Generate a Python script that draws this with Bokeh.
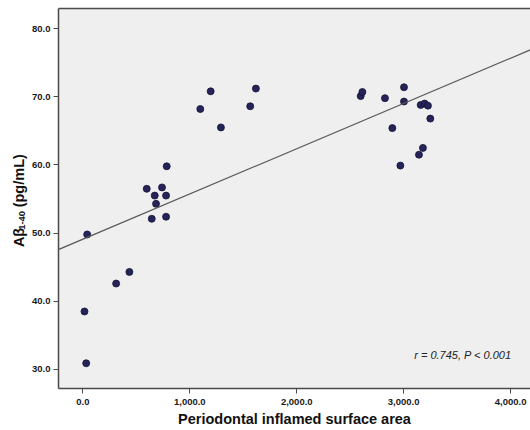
import math
from bokeh.plotting import figure
from bokeh.layouts import row
from bokeh.models import (ColumnDataSource, LinearAxis, FixedTicker, NumeralTickFormatter,
                          Range1d, Label, Slope)
from bokeh.core.properties import value
from bokeh.embed import file_html
from bokeh.resources import INLINE

# Periodontal inflamed surface area (PISA, mm²) and plasma Aβ1-40 (pg/mL)
pisa = [15, 31, 40, 311, 435, 597, 644, 672, 684, 740, 778, 778, 784,
        1098, 1195, 1291, 1565, 1618,
        2598, 2614, 2825, 2894, 2969, 3003, 3003, 3143, 3159, 3180, 3196, 3227, 3249]
abeta = [38.5, 30.9, 49.8, 42.6, 44.3, 56.5, 52.1, 55.5, 54.3, 56.7, 55.5, 52.4, 59.8,
         68.2, 70.8, 65.5, 68.6, 71.2,
         70.1, 70.7, 69.8, 65.4, 59.9, 71.4, 69.3, 61.5, 68.8, 62.5, 69.0, 68.7, 66.8]

# Fitted regression line
fit_intercept = 49.1
fit_slope = 0.00664

x_ticks = [0, 1000, 2000, 3000, 4000]
y_ticks = [30, 40, 50, 60, 70, 80]
stats_text = "r = 0.745, P < 0.001"
y_title = ["Aβ", "1-40", "(pg/mL)"]

FONT = "Liberation Sans"
H = 430
TITLE_W = 29

# ---- narrow strip holding the vertical y-axis title (pixel coordinates) ----
t = figure(width=TITLE_W, height=H, output_backend="svg", toolbar_location=None,
           x_range=Range1d(0, TITLE_W), y_range=Range1d(0, H),
           x_axis_type=None, y_axis_type=None,
           min_border_left=0, min_border_right=0, min_border_top=0, min_border_bottom=0)
t.outline_line_color = None
t.background_fill_color = "white"
t.border_fill_color = "white"
t.grid.visible = False

base_x, start_y = 18, 270          # baseline column and starting row of the title
title_specs = [(y_title[0], 14.5, 0, 0.0),
               (y_title[1], 9.5, 3, 19.5),
               (y_title[2], 14.5, 0, 45.0)]
for txt, fs, dx, offset in title_specs:
    t.text(x=[base_x + dx], y=[H - (start_y - offset)], text=[txt], angle=math.pi / 2,
           text_font=value(FONT), text_font_style="bold", text_font_size=f"{fs}px",
           text_color="#111111", text_align="left", text_baseline="alphabetic")

# ---- main scatter plot ----
p = figure(width=530 - TITLE_W, height=H, output_backend="svg", toolbar_location=None,
           x_range=Range1d(-228, 4186), y_range=Range1d(27.2, 82.95),
           x_axis_type=None, y_axis_type=None,
           min_border_left=57 - TITLE_W, min_border_right=0, min_border_top=8,
           min_border_bottom=42)
p.background_fill_color = "#efefef"
p.border_fill_color = "white"
p.outline_line_color = None
p.grid.visible = False

xaxis = LinearAxis(ticker=FixedTicker(ticks=x_ticks),
                   formatter=NumeralTickFormatter(format="0,0.0"),
                   axis_label="Periodontal inflamed surface area")
yaxis = LinearAxis(ticker=FixedTicker(ticks=y_ticks),
                   formatter=NumeralTickFormatter(format="0.0"))
for ax in (xaxis, yaxis):
    ax.axis_line_color = "#4a4a4a"
    ax.axis_line_width = 1.5
    ax.major_tick_line_color = "#4a4a4a"
    ax.major_tick_in = 0
    ax.major_tick_out = 5
    ax.minor_tick_line_color = None
    ax.major_label_text_font = FONT
    ax.major_label_text_font_style = "bold"
    ax.major_label_text_font_size = "9.5px"
    ax.major_label_text_color = "#1a1a1a"
    ax.axis_label_text_font = FONT
    ax.axis_label_text_font_style = "bold"
    ax.axis_label_text_font_size = "14.5px"
    ax.axis_label_text_color = "#111111"
xaxis.major_label_standoff = 5
xaxis.axis_label_standoff = 3
yaxis.major_label_standoff = 3
p.add_layout(xaxis, "below")
p.add_layout(yaxis, "left")

# top border of the plotting box
top = LinearAxis(ticker=FixedTicker(ticks=[]), axis_line_color="#4a4a4a",
                 axis_line_width=1.5, major_tick_line_color=None,
                 minor_tick_line_color=None, major_label_text_font_size="0px")
p.add_layout(top, "above")

p.add_layout(Slope(gradient=fit_slope, y_intercept=fit_intercept,
                   line_color="#5a5a5a", line_width=1.2))

src = ColumnDataSource(data=dict(x=pisa, y=abeta))
p.scatter("x", "y", source=src, size=7, fill_color="#24245a",
          line_color="#141433", line_width=0.8)

p.add_layout(Label(x=4008, y=32.1, text=stats_text, text_font=FONT,
                   text_font_style="italic", text_font_size="11px",
                   text_color="#222222", text_align="right", text_baseline="middle"))

layout = row(t, p, spacing=0)
open("out.html", "w").write(file_html(layout, INLINE))
